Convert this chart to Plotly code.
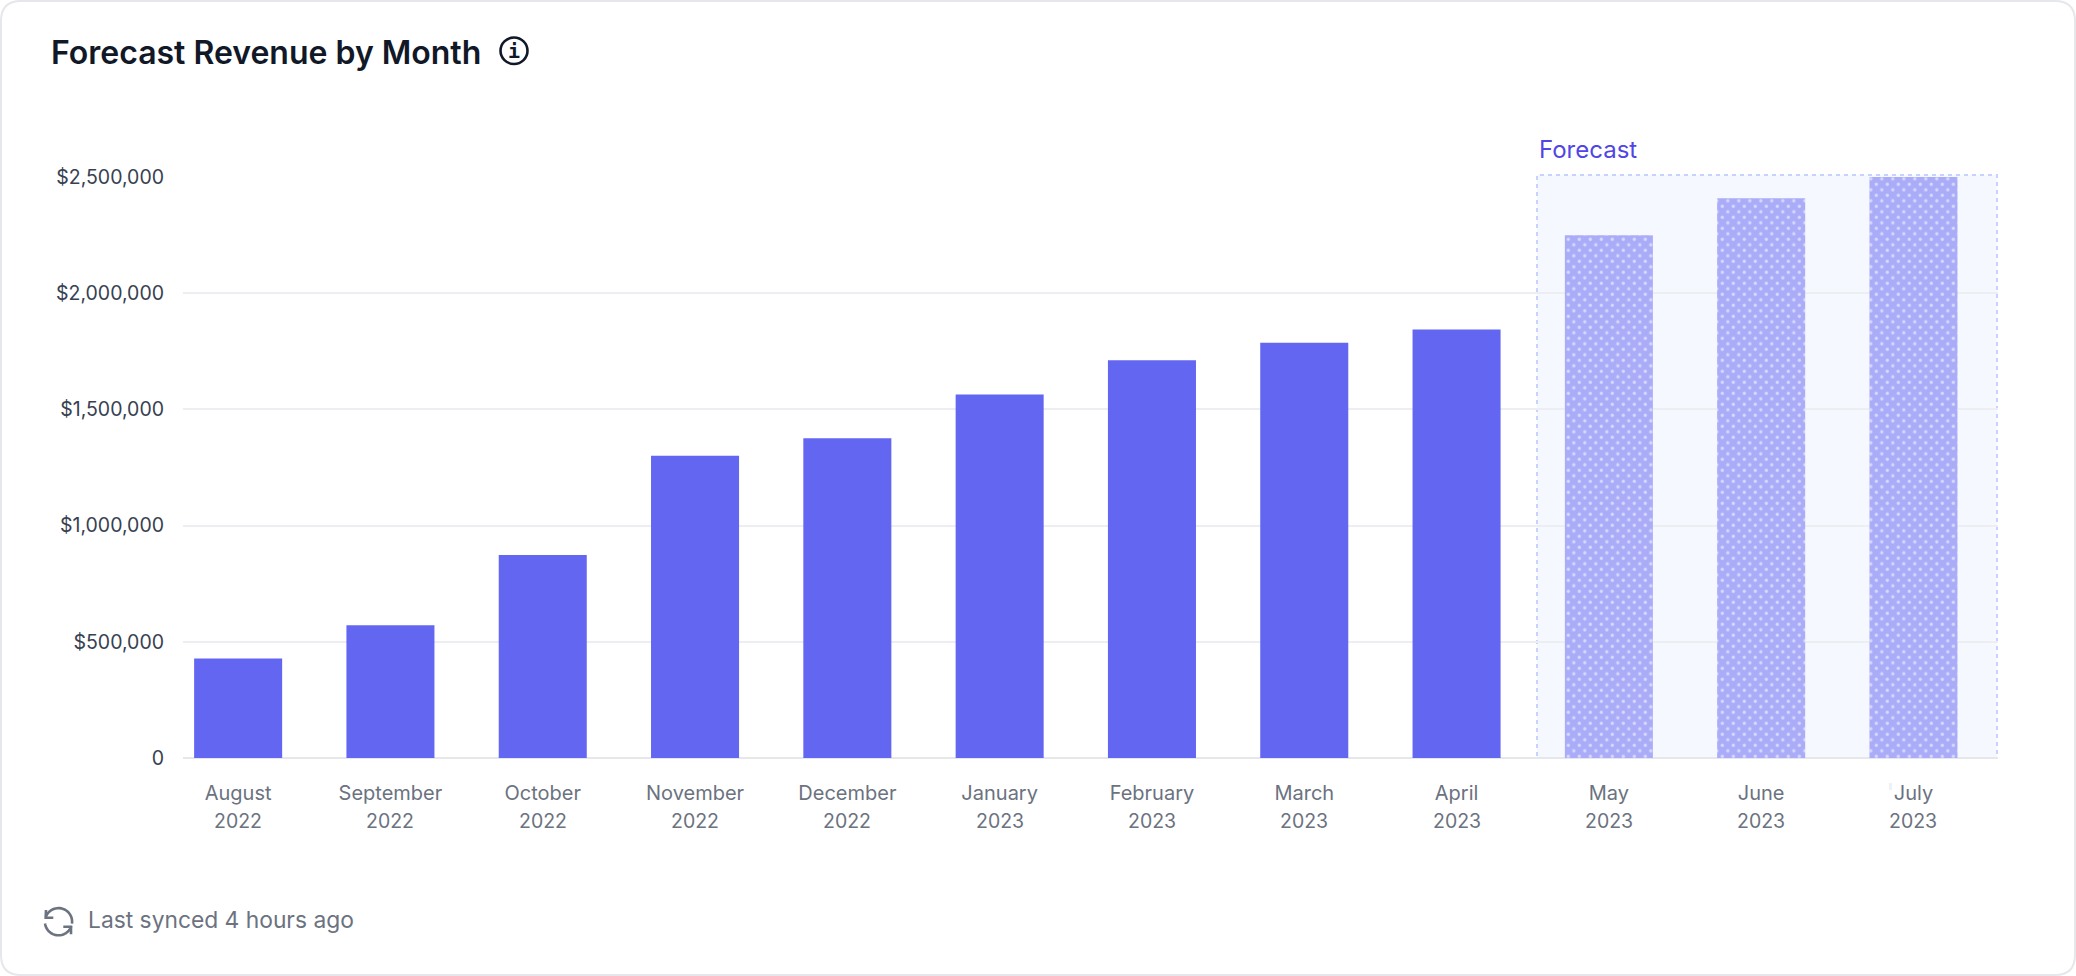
import numpy as np
import plotly.graph_objects as go

W = 2076
H = 976

months = ["August", "September", "October", "November", "December", "January",
          "February", "March", "April", "May", "June", "July"]
years = ["2022", "2022", "2022", "2022", "2022", "2023",
         "2023", "2023", "2023", "2023", "2023", "2023"]
actual_revenue = [428000, 571000, 873000, 1301000, 1376000, 1564000,
                  1712000, 1787000, 1844000, None, None, None]
forecast_revenue = [None, None, None, None, None, None,
                    None, None, None, 2249000, 2409000, 2500000]
y_ticks = [0, 500000, 1000000, 1500000, 2000000, 2500000]
y_tick_labels = ["0", "$500,000", "$1,000,000", "$1,500,000", "$2,000,000", "$2,500,000"]


def px(x):
    return x / W


def py(y):
    return 1 - y / H


def rounded_card(x0, y0, x1, y1, r):
    return (f"M {px(x0 + r)} {py(y0)} L {px(x1 - r)} {py(y0)} "
            f"Q {px(x1)} {py(y0)} {px(x1)} {py(y0 + r)} L {px(x1)} {py(y1 - r)} "
            f"Q {px(x1)} {py(y1)} {px(x1 - r)} {py(y1)} L {px(x0 + r)} {py(y1)} "
            f"Q {px(x0)} {py(y1)} {px(x0)} {py(y1 - r)} L {px(x0)} {py(y0 + r)} "
            f"Q {px(x0)} {py(y0)} {px(x0 + r)} {py(y0)} Z")


def arc_path(cx, cy, r, a0, a1):
    t = np.radians(np.linspace(a0, a1, 30))
    pts = [f"{px(cx + r * np.cos(a))} {py(cy - r * np.sin(a))}" for a in t]
    return "M " + " L ".join(pts)


def poly_path(points):
    return "M " + " L ".join(f"{px(x)} {py(y)}" for x, y in points)


def icon_line(path):
    return dict(type="path", xref="paper", yref="paper", path=path,
                line=dict(color="#6B7280", width=2.6))


TEXT_FONT = "Inter"

fig = go.Figure()
fig.add_trace(go.Bar(x=months, y=actual_revenue, marker_color="#6366F1",
                     marker_line_width=0, width=0.578, showlegend=False))
fig.add_trace(go.Bar(x=months, y=forecast_revenue, width=0.578, showlegend=False,
                     marker=dict(color="#ABACF8", line_width=0,
                                 pattern=dict(shape=".", size=11, solidity=0.07,
                                              fgcolor="#D6D9FF", bgcolor="#ABACF8",
                                              fillmode="replace"))))

shapes = [
    dict(type="path", xref="paper", yref="paper", path=rounded_card(1, 1, 2075, 975, 20),
         line=dict(color="#E5E7EB", width=2), fillcolor="#FFFFFF", layer="below"),
    dict(type="rect", xref="paper", yref="paper", x0=px(1537), x1=px(1997), y0=py(758), y1=py(175),
         line=dict(color="#C7D2FE", width=2, dash="4px,4px"), fillcolor="#F5F8FF", layer="below"),
    # info icon
    dict(type="circle", xref="paper", yref="paper", x0=px(500.5), x1=px(527.5), y0=py(64), y1=py(37.5),
         line=dict(color="#111827", width=2.6)),
    # sync icon
    icon_line(arc_path(58.5, 921.7, 13.6, 160, -8)),
    icon_line(arc_path(58.5, 921.7, 13.6, 188, 340)),
    icon_line(poly_path([(46, 910), (45.7, 917.7), (53.3, 917.7)])),
    icon_line(poly_path([(71, 934.3), (71, 926.7), (63.3, 926.7)])),
    # stray mark next to the July label
    dict(type="rect", xref="paper", yref="paper", x0=px(1889), x1=px(1892), y0=py(790), y1=py(783),
         line_width=0, fillcolor="#F0F1F4"),
]

annotations = [
    dict(text="Forecast Revenue by Month", xref="paper", yref="paper", x=px(48.5), y=py(52),
         xanchor="left", yanchor="middle", showarrow=False,
         font=dict(family=TEXT_FONT, size=32, color="#111827", weight=600)),
    dict(text="<b>i</b>", xref="paper", yref="paper", x=px(514), y=py(51), xanchor="center", yanchor="middle",
         showarrow=False, font=dict(family="DejaVu Sans Mono", size=20, color="#111827")),
    dict(text="Forecast", xref="paper", yref="paper", x=px(1536.5), y=py(150),
         xanchor="left", yanchor="middle", showarrow=False,
         font=dict(family=TEXT_FONT, size=24, color="#4F46E5")),
    dict(text="Last synced 4 hours ago", xref="paper", yref="paper", x=px(85.5), y=py(919),
         xanchor="left", yanchor="middle", showarrow=False,
         font=dict(family=TEXT_FONT, size=22.8, color="#6B7280")),
]
for m, yr in zip(months, years):
    annotations.append(dict(text=yr, x=m, xref="x", y=py(821), yref="paper", xanchor="center",
                            yanchor="middle", showarrow=False,
                            font=dict(family=TEXT_FONT, size=19.5, color="#6B7280")))

fig.update_layout(
    width=W, height=H,
    margin=dict(l=0, r=0, t=0, b=0),
    paper_bgcolor="rgba(0,0,0,0)",
    plot_bgcolor="rgba(0,0,0,0)",
    barmode="overlay",
    shapes=shapes,
    annotations=annotations,
    font=dict(family=TEXT_FONT),
)
fig.update_xaxes(domain=[px(183), px(1998)], range=[-0.362, 11.555], categoryorder="array",
                 categoryarray=months, showgrid=False, showline=False, ticks="", automargin=False,
                 ticklabelstandoff=21, tickfont=dict(size=20, color="#6B7280"))
fig.update_yaxes(domain=[py(758), py(177)], range=[0, 2500000], tickvals=y_ticks, ticktext=y_tick_labels,
                 showgrid=True, gridcolor="#ECEEF1", gridwidth=2, zeroline=True, zerolinecolor="#E5E7EB",
                 zerolinewidth=2, showline=False, ticks="", ticklabelstandoff=18, automargin=False,
                 tickfont=dict(size=19.5, color="#374151"))

# plotly's dot pattern is a plain grid; the reference dots are staggered
post_js = """
document.body.style.margin = '0';
document.querySelectorAll('pattern').forEach(function (p) {
    var c = p.querySelector('circle');
    if (!c) return;
    var size = parseFloat(p.getAttribute('width'));
    [[0, 0], [size, 0], [0, size], [size, size]].forEach(function (xy) {
        var d = c.cloneNode();
        d.setAttribute('cx', xy[0]);
        d.setAttribute('cy', xy[1]);
        p.appendChild(d);
    });
    p.setAttribute('patternTransform', 'translate(4.8,1.8)');
});
"""
fig.write_html("out.html", post_script=post_js, config={"displayModeBar": False})
